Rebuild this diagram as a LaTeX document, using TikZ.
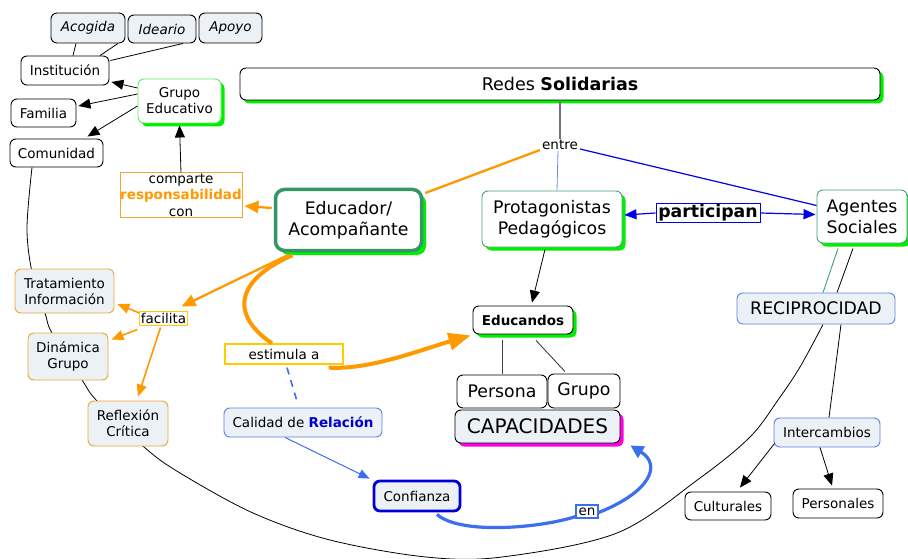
\documentclass[tikz,border=0pt]{standalone}
\usepackage{fontspec}
\setmainfont{DejaVu Sans}
\usetikzlibrary{arrows.meta,shadows,calc,backgrounds}
\newcommand{\cmapS}{\fontsize{13.5}{16}\selectfont}
\newcommand{\cmapM}{\fontsize{13.5}{16.5}\selectfont}
\newcommand{\cmapL}{\fontsize{17.3}{21}\selectfont}
\newcommand{\cmapXL}{\fontsize{20}{24}\selectfont}
\newcommand{\cmapT}{\fontsize{17.5}{21}\selectfont}
\definecolor{lightfill}{RGB}{236,241,246}
\definecolor{shadowgreen}{RGB}{0,238,0}
\definecolor{orangeL}{RGB}{255,153,0}
\definecolor{orangeB}{RGB}{240,165,50}
\definecolor{yellowB}{RGB}{255,204,0}
\definecolor{dgreen}{RGB}{52,150,100}
\definecolor{mgreen}{RGB}{70,160,110}
\definecolor{lgreen}{RGB}{100,235,100}
\definecolor{blueL}{RGB}{0,0,230}
\definecolor{blueM}{RGB}{60,110,240}
\definecolor{blueB}{RGB}{90,130,230}
\definecolor{blueD}{RGB}{0,0,220}
\definecolor{relblue}{RGB}{0,0,204}
\definecolor{magentaS}{RGB}{255,0,230}
\begin{document}
\begin{tikzpicture}[x=1pt,y=-1pt,
  wh/.style 2 args={minimum width=#1pt, minimum height=#2pt},
  box/.style={draw, rounded corners=6pt, inner sep=0pt, align=center, font=\cmapS, line width=0.9pt},
  gshadow/.style={drop shadow={shadow xshift=3.5pt, shadow yshift=-3.5pt, fill=shadowgreen, opacity=1}},
  mshadow/.style={drop shadow={shadow xshift=3.5pt, shadow yshift=-3.5pt, fill=magentaS, opacity=1}},
  lbox/.style={inner sep=1pt, fill=white, font=\cmapS},
  link/.style={line width=0.8pt, black},
  barr/.style={link, -{Triangle[length=12pt,width=10pt]}},
  othin/.style={draw=orangeL, line width=1.6pt, -{Triangle[length=12pt,width=10pt]}},
  omed/.style={draw=orangeL, line width=2.3pt},
  othick/.style={draw=orangeL, line width=4pt},
  blarr/.style={draw=blueL, line width=1.2pt, -{Triangle[length=12pt,width=10pt]}}
]
\path[use as bounding box] (0,0) rectangle (908,559);
\begin{scope}[on background layer]
\fill[white] (0,0) rectangle (908,559);
\end{scope}

% ---- nodes ----
\node[box, fill=lightfill, wh={74}{30}, font=\cmapS\itshape] (acogida) at (88,28) {Acogida};
\node[box, fill=lightfill, wh={68}{28}, font=\cmapS\itshape] (ideario) at (162,29) {Ideario};
\node[box, fill=lightfill, wh={63}{30}, font=\cmapS\itshape] (apoyo) at (230.5,28) {Apoyo};
\node[box, fill=white, wh={88}{29}] (inst) at (65,70.5) {Institución};
\node[box, draw=lgreen, fill=white, gshadow, wh={83}{44}] (grupoed) at (179.5,101) {Grupo\\Educativo};
\node[box, fill=white, wh={65}{28}] (familia) at (43.5,113) {Familia};
\node[box, fill=white, wh={93}{28}] (comunidad) at (56.5,153) {Comunidad};
\node[draw=orangeB, line width=1pt, fill=white, inner sep=0pt, wh={122}{44}, align=center, font=\cmapM] (comparte) at (181,195) {comparte\\\textcolor{orangeL}{\textbf{responsabilidad}}\\con};
\node[box, draw=dgreen, line width=3.5pt, rounded corners=9pt, fill=white,
  drop shadow={shadow xshift=4.5pt, shadow yshift=-4.5pt, fill=shadowgreen, opacity=1},
  wh={146}{61}, font=\cmapL] (educ) at (348.5,220) {Educador/\\Acompañante};
\node[box, fill=white, gshadow, wh={640}{32}, font=\cmapT] (redes) at (560,84) {Redes \textbf{Solidarias}};
\node[lbox] (entre) at (560,145) {entre};
\node[box, draw=mgreen, fill=white, gshadow, wh={140}{56}, font=\cmapL] (protag) at (552,219) {Protagonistas\\Pedagógicos};
\node[draw=blueL, line width=1pt, fill=white, inner sep=1pt, wh={104}{19}, font=\cmapL\bfseries] (particip) at (708,212.5) {participan};
\node[box, draw=mgreen, fill=white, gshadow, wh={90}{53}, font=\cmapL] (agentes) at (862,216.5) {Agentes\\Sociales};
\node[box, fill=white, gshadow, wh={100}{28}, font=\cmapS\bfseries] (educandos) at (523,320) {Educandos};
\node[box, draw=blueB, fill=lightfill, wh={158}{31}, font=\cmapL] (reci) at (816,308.5) {RECIPROCIDAD};
\node[box, fill=white, wh={90}{33}, font=\cmapL] (persona) at (502,391.5) {Persona};
\node[box, fill=white, wh={72}{34}, font=\cmapL] (grupo) at (584,391) {Grupo};
\node[box, fill=lightfill, mshadow, wh={165}{33}, font=\cmapXL] (capac) at (537.5,426.5) {CAPACIDADES};
\node[box, draw=orangeB, fill=lightfill, wh={99}{44}] (trat) at (64.5,291) {Tratamiento\\Información};
\node[box, draw=orangeB, fill=lightfill, wh={80}{47}] (dinam) at (68,356.5) {Dinámica\\Grupo};
\node[box, draw=orangeB, fill=lightfill, wh={80}{45}] (reflex) at (128,423.5) {Reflexión\\Crítica};
\node[draw=yellowB, line width=1pt, lbox, wh={47}{14}] (facilita) at (163.5,318) {facilita};
\node[draw=yellowB, line width=1.3pt, fill=white, inner sep=0pt, wh={118}{20}, font=\cmapS] (estimula) at (284,354) {estimula a};
\node[box, draw=blueB, fill=lightfill, wh={158}{29}] (calidad) at (303,422.5) {Calidad de \textcolor{relblue}{\textbf{Relación}}};
\node[box, draw=blueD, line width=2.8pt, fill=lightfill, wh={86}{30}] (confianza) at (417,496) {Confianza};
\node[draw=blueM, line width=1.3pt, lbox, wh={22}{13}] (en) at (587,511.5) {en};
\node[box, draw=blueB, fill=lightfill, wh={106}{29}] (interc) at (827,432.5) {Intercambios};
\node[box, fill=white, wh={86}{28}] (cultur) at (728,506) {Culturales};
\node[box, fill=white, wh={90}{29}] (person) at (838,503.5) {Personales};

% ---- connectors behind nodes ----
\begin{scope}[on background layer]
\draw[link] plot[smooth, tension=0.55] coordinates {
  ($(comunidad.south)+(-24.5,0)$) (27,228) (32,272) (45,313) (52,333) (82,380) (97,401)
  (144,447) (180,473) (253,513) (330,540) (426,557) (502,557) (617,533) (700,478)
  (750,437) (778,400) (800,367) ($(reci.south)+(7,0)$)};
\draw[link] ($(agentes.south)+(-9,5)$) -- ($(reci.north)+(21,0)$);
\draw[draw=mgreen, line width=0.9pt] ($(agentes.south)+(-24,5)$) -- ($(reci.north)+(7,0)$);
\draw[link] ($(reci.south)+(25,0)$) -- ($(interc.north)+(2,0)$);
\draw[draw=blueM, line width=3.2pt] ($(confianza.south)+(20,2)$) .. controls (460,535) and (540,528) .. ($(en.south west)+(0,-2)$);
\end{scope}

\draw[link] ($(inst.north)+(8,0)$) -- ($(acogida.south)+(-12,0)$);
\draw[link] ($(inst.north)+(35,0)$) -- ($(ideario.south)+(-44,0)$);
\draw[link] ($(inst.east)+(1,-10)$) -- ($(apoyo.south)+(-47.5,0)$);
\draw[barr] ($(grupoed.west)+(0,-13)$) -- ($(inst.east)+(2,11.5)$);
\draw[barr] ($(grupoed.west)+(0,-7)$) -- ($(familia.east)+(2,-7)$);
\draw[barr] ($(grupoed.west)+(0,5)$) -- ($(comunidad.north)+(31,-2)$);
\draw[barr] (comparte.north) -- ($(grupoed.south)+(0,2)$);

\draw[omed, -{Triangle[length=14pt,width=12pt]}] ($(educ.west)+(-2,-12)$) -- ($(comparte.east)+(2,11)$);
\draw[omed] ($(educ.east)+(2,-27)$) -- ($(entre.west)+(-1,5)$);
\draw[draw=black!55, line width=2pt] (redes.south) -- (entre.north);
\draw[draw=blueM!80, line width=0.8pt] ($(entre.south)+(-2,0)$) -- ($(protag.north)+(5,0)$);
\draw[draw=blueL, line width=1.2pt] ($(entre.east)+(1,4)$) -- ($(agentes.west)+(0,-11)$);
\draw[blarr] ($(particip.west)+(0,0.5)$) -- ($(protag.east)+(2,-4)$);
\draw[blarr] ($(particip.east)+(0,0.5)$) -- ($(agentes.west)+(-1,-2)$);
\draw[barr] ($(protag.south)+(-7,2)$) -- ($(educandos.north)+(9,-3)$);
\draw[draw=black!75, line width=0.9pt] ($(educandos.south)+(-21,6)$) -- ($(persona.north)+(0,-1)$);
\draw[draw=black!75, line width=0.9pt] ($(educandos.south)+(13,6)$) -- ($(grupo.north)+(-19,-2)$);

\draw[omed, -{Triangle[length=14pt,width=12pt]}] ($(educ.south)+(-61,3)$) -- ($(facilita.north)+(18,-4)$);
\draw[othin] ($(facilita.west)+(0,-5)$) -- ($(trat.east)+(3,13)$);
\draw[othin] ($(facilita.south west)+(-2,4)$) -- ($(dinam.east)+(3,-17)$);
\draw[othin] ($(facilita.south)+(-3,2)$) -- ($(reflex.north)+(10,-4)$);

\draw[othick] ($(educ.south)+(-56,3)$) .. controls (235,280) and (230,315) .. ($(estimula.north)+(-12,0)$);
\draw[othick, -{Triangle[length=22pt,width=17pt]}] ($(estimula.south east)+(-15,3)$) .. controls (370,370) and (420,350) .. ($(educandos.south west)+(-2,1)$);

\draw[draw=blueM, line width=1.6pt, dash pattern=on 7pt off 6pt] ($(estimula.south)+(3,3)$) -- ($(calidad.north)+(-5,-3)$);
\draw[draw=blueM, line width=1pt, -{Triangle[length=11pt,width=9pt]}] ($(calidad.south)+(-18,0)$) -- ($(confianza.north west)+(-3,-1)$);

\draw[draw=blueM, line width=3.2pt, -{Triangle[length=13pt,width=13pt]}] ($(en.east)+(0,1)$) .. controls (650,492) and (662,465) .. ($(capac.south east)+(10,2)$);

\draw[barr] ($(interc.south west)+(1,-4)$) -- ($(cultur.north)+(12,-4)$);
\draw[barr] ($(interc.south)+(-7,0)$) -- ($(person.north)+(-6,-3)$);
\end{tikzpicture}
\end{document}
